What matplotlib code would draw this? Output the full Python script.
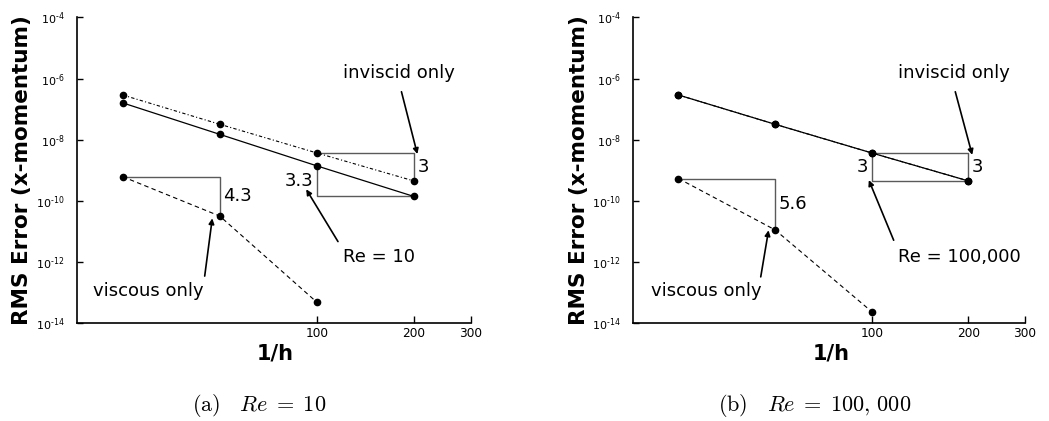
import matplotlib
matplotlib.use("Agg")
import matplotlib.pyplot as plt
import numpy as np

plt.rcParams["font.family"] = ["DejaVu Sans"]
plt.rcParams["mathtext.fontset"] = "cm"

# Grid refinement levels (1/h)
inv_h = [25, 50, 100, 200]
inv_h_visc = [25, 50, 100]

# RMS error of x-momentum, Re = 10
a_inviscid = [2.9e-7, 3.2e-8, 3.7e-9, 4.5e-10]
a_full = [1.6e-7, 1.5e-8, 1.4e-9, 1.4e-10]
a_viscous = [6.2e-10, 3.2e-11, 4.9e-14]

# RMS error of x-momentum, Re = 100,000
b_inviscid = [2.9e-7, 3.2e-8, 3.7e-9, 4.5e-10]
b_full = [2.9e-7, 3.2e-8, 3.7e-9, 4.5e-10]
b_viscous = [5.4e-10, 1.13e-11, 2.4e-14]

x_ticks = [100, 200, 300]
x_tick_labels = ["100", "200", "300"]
y_ticks = [1e-14, 1e-12, 1e-10, 1e-8, 1e-6, 1e-4]
y_tick_labels = ["$\\mathregular{10^{\u201014}}$", "$\\mathregular{10^{\u201012}}$",
                 "$\\mathregular{10^{\u201010}}$", "$\\mathregular{10^{\u20108}}$",
                 "$\\mathregular{10^{\u20106}}$", "$\\mathregular{10^{\u20104}}$"]

fig = plt.figure(figsize=(10.49, 4.21), dpi=100)
ax_a = fig.add_axes([0.0731, 0.232, 0.3756, 0.7268])
ax_b = fig.add_axes([0.6031, 0.232, 0.3740, 0.7268])

TRI = "#5a5a5a"
ANN_FS = 13


def style_axes(ax):
    ax.set_xscale("log")
    ax.set_yscale("log")
    ax.set_xlim(18, 300)
    ax.set_ylim(1e-14, 1e-4)
    for s in ("top", "right"):
        ax.spines[s].set_visible(False)
    for s in ("left", "bottom"):
        ax.spines[s].set_linewidth(1.2)
    ax.minorticks_off()
    ax.set_xticks(x_ticks)
    ax.set_xticklabels(x_tick_labels)
    ax.set_yticks(y_ticks)
    ax.set_yticklabels(y_tick_labels)
    ax.tick_params(axis="x", direction="in", length=5, width=1.0,
                   labelsize=8.7, pad=3)
    ax.tick_params(axis="y", direction="in", length=4.5, width=1.0,
                   labelsize=8, pad=9)
    ax.set_xlabel("1/h", fontsize=15, fontweight="bold", va="center")
    ax.xaxis.set_label_coords(0.505, -0.097)
    ax.set_ylabel("RMS Error (x-momentum)", fontsize=15.5,
                  fontweight="bold", va="center")
    ax.yaxis.set_label_coords(-0.138, 0.5)


def series(ax, x, y, ls, lw=0.9):
    ax.plot(x, y, color="black", linestyle=ls, linewidth=lw,
            marker="o", markersize=4.5, zorder=3)


def arrow(ax, tail, head):
    ax.annotate("", xy=head, xytext=tail,
                arrowprops=dict(arrowstyle="-|>", color="black", lw=1.2,
                                mutation_scale=8, shrinkA=0, shrinkB=0))


def slope_label(ax, x, y_hi, y_lo, text, side):
    ym = np.sqrt(y_hi * y_lo)
    dx = 2.5 if side == "right" else -2.5
    ax.annotate(text, xy=(x, ym), xytext=(dx, 0), textcoords="offset points",
                ha="left" if side == "right" else "right", va="center",
                fontsize=ANN_FS)


DASHDOT = (0, (3, 2, 1, 2))
DASHED = (0, (4, 3))

# ---------- (a) Re = 10 ----------
ax = ax_a
style_axes(ax)
series(ax, inv_h, a_inviscid, DASHDOT, lw=0.8)
series(ax, inv_h, a_full, "-")
series(ax, inv_h_visc, a_viscous, DASHED, lw=0.8)

# slope triangle, inviscid only
ax.plot([inv_h[2], inv_h[3], inv_h[3]],
        [a_inviscid[2], a_inviscid[2], a_inviscid[3]],
        color=TRI, lw=1.0, zorder=2)
slope_label(ax, inv_h[3], a_inviscid[2], a_inviscid[3], "3", "right")
# slope triangle, Re = 10
ax.plot([inv_h[2], inv_h[2], inv_h[3]],
        [a_full[2], a_full[3], a_full[3]],
        color=TRI, lw=1.0, zorder=2)
slope_label(ax, inv_h[2], a_full[2], a_full[3], "3.3", "left")
# slope triangle, viscous only
ax.plot([inv_h_visc[0], inv_h_visc[1], inv_h_visc[1]],
        [a_viscous[0], a_viscous[0], a_viscous[1]],
        color=TRI, lw=1.0, zorder=2)
slope_label(ax, inv_h_visc[1], a_viscous[0], a_viscous[1], "4.3", "right")

ax.text(120.5, 1.5e-6, "inviscid only", fontsize=ANN_FS, ha="left", va="center")
arrow(ax, (183, 3.7e-7), (205, 3.4e-9))
ax.text(120.5, 1.5e-12, "Re = 10", fontsize=ANN_FS, ha="left", va="center")
arrow(ax, (116.3, 4.7e-12), (92.7, 2.4e-10))
ax.text(20.2, 1.17e-13, "viscous only", fontsize=ANN_FS, ha="left", va="center")
arrow(ax, (44.9, 3.5e-13), (47.4, 2.7e-11))

# ---------- (b) Re = 100,000 ----------
ax = ax_b
style_axes(ax)
series(ax, inv_h, b_inviscid, DASHDOT, lw=0.8)
series(ax, inv_h, b_full, "-")
series(ax, inv_h_visc, b_viscous, DASHED, lw=0.8)

ax.plot([inv_h[2], inv_h[3], inv_h[3]],
        [b_inviscid[2], b_inviscid[2], b_inviscid[3]],
        color=TRI, lw=1.0, zorder=2)
slope_label(ax, inv_h[3], b_inviscid[2], b_inviscid[3], "3", "right")
ax.plot([inv_h[2], inv_h[2], inv_h[3]],
        [b_full[2], b_full[3], b_full[3]],
        color=TRI, lw=1.0, zorder=2)
slope_label(ax, inv_h[2], b_full[2], b_full[3], "3", "left")
ax.plot([inv_h_visc[0], inv_h_visc[1], inv_h_visc[1]],
        [b_viscous[0], b_viscous[0], b_viscous[1]],
        color=TRI, lw=1.0, zorder=2)
slope_label(ax, inv_h_visc[1], b_viscous[0], b_viscous[1], "5.6", "right")

ax.text(121, 1.5e-6, "inviscid only", fontsize=ANN_FS, ha="left", va="center")
arrow(ax, (182, 3.7e-7), (205.5, 3.2e-9))
ax.text(121, 1.5e-12, "Re = 100,000", fontsize=ANN_FS, ha="left", va="center")
arrow(ax, (117, 5.2e-12), (97.9, 4.8e-10))
ax.text(20.6, 1.17e-13, "viscous only", fontsize=ANN_FS, ha="left", va="center")
arrow(ax, (45.1, 3.3e-13), (47.7, 1.1e-11))

# sub-figure captions
fig.text(259 / 1049, 0.038, r"$\mathrm{(a)}\quad Re\;=\;10$", fontsize=16,
         ha="center", va="center")
fig.text(815 / 1049, 0.038, r"$\mathrm{(b)}\quad Re\;=\;100,\,000$", fontsize=16,
         ha="center", va="center")

fig.savefig("out.png", dpi=100)
